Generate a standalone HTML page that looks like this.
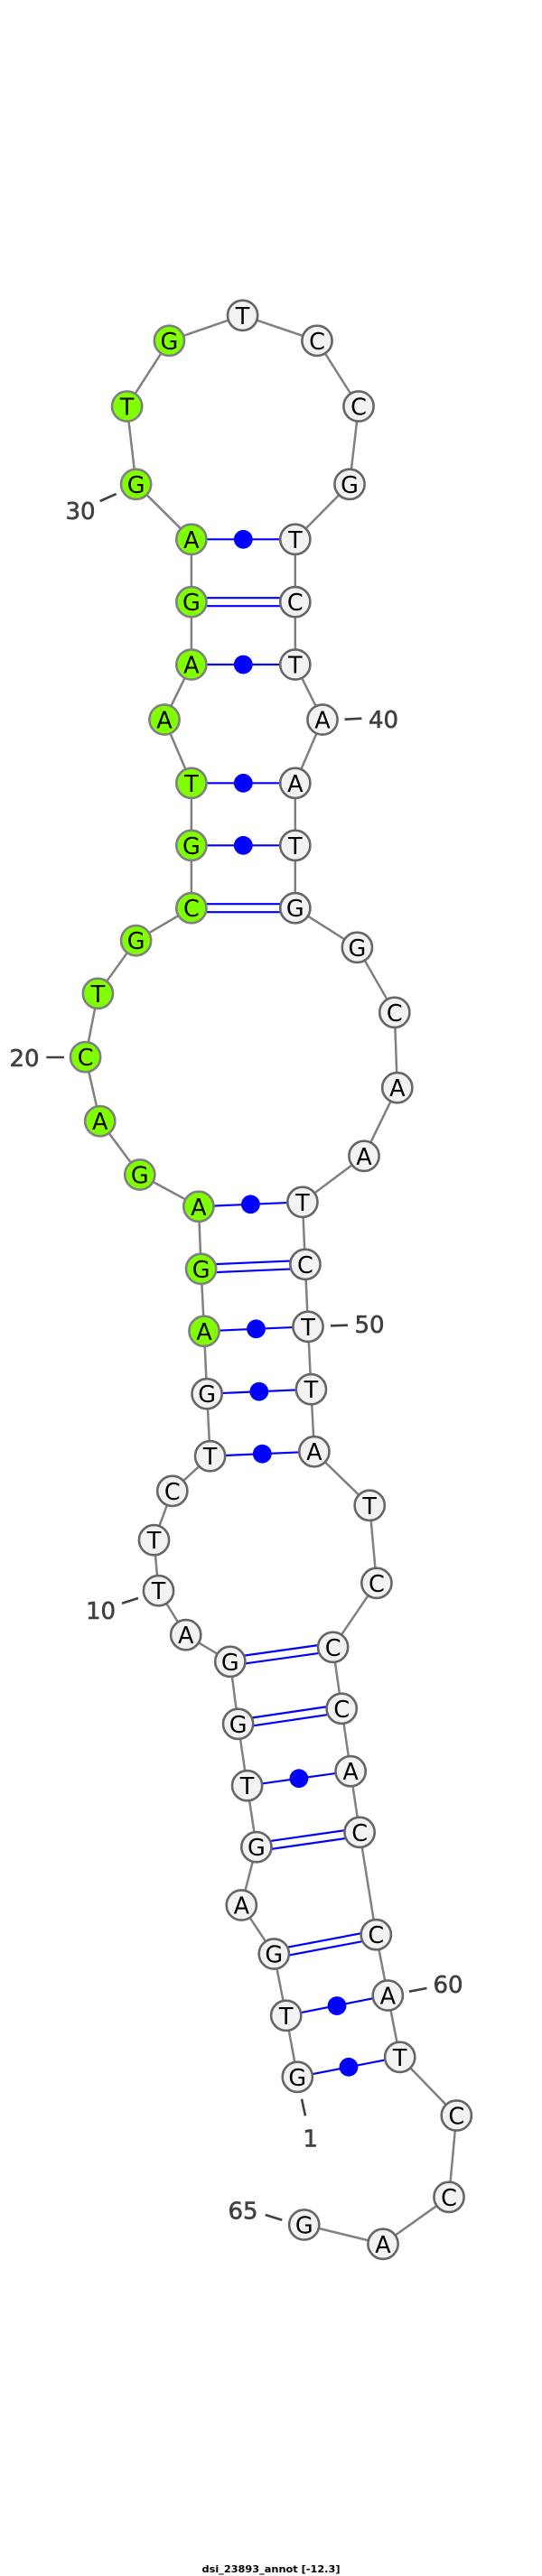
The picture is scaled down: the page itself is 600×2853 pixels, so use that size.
<!DOCTYPE html>
<html>
<head>
<meta charset="utf-8">
<style>
html,body{margin:0;padding:0;background:#fff}
svg{display:block}
.n text{font-family:"DejaVu Sans","Liberation Sans",sans-serif;font-size:25.5px;fill:#000;text-anchor:middle}
text.l{font-family:"DejaVu Sans","Liberation Sans",sans-serif;font-size:26px;fill:#404040;text-anchor:middle;stroke:#404040;stroke-width:.6}
circle.g{fill:#7fff00;stroke:#808080;stroke-width:2.6}
circle.w{fill:#f2f2f2;stroke:#666;stroke-width:2.6}
</style>
</head>
<body>
<svg xmlns="http://www.w3.org/2000/svg" width="600" height="2853" viewBox="0 0 600 2853">
<rect width="600" height="2853" fill="#fff"/>

<polyline fill="none" stroke="#808080" stroke-width="2.5" points="329.3,2300.3 316.7,2232.3 303.3,2164 267.3,2110 283.9,2045.7 273.6,1977.7 263.6,1909.3 254.8,1840.3 205.7,1810.7 175.5,1761.7 170.5,1705.7 190.8,1651.3 232.6,1612.7 229.1,1543.7 226,1474.3 222.6,1405.3 219.9,1336.3 154.8,1301 110.7,1241.7 94.6,1170.7 108.4,1100.3 150.6,1041.7 211.9,1005.7 211.9,936.3 211.9,867.3 182,797 211.9,736 211.9,666.7 211.9,597.3 150.6,536.3 140.6,450 187.4,377.3 268.6,349.3 351,377.3 397,450 387,536.3 326.8,597.3 326.8,666.7 326.8,736 357,797 326.8,867.3 326.8,936.3 326.8,1005.7 395.4,1049.3 436.8,1121.3 439.8,1204.7 403,1280.3 334.9,1331.3 337.9,1400.3 341,1469.3 344.4,1538.7 347.9,1607.7 409.2,1667.3 416.9,1753.3 368.6,1824.3 378.2,1892.3 388.1,1961.7 398.1,2029.3 416.3,2142.7 429.3,2210 442.7,2278.3 505.3,2343 497,2433.3 424,2485.3 336.7,2464"/>

<g stroke="#0000ff" stroke-width="2.2" fill="none">
<line x1="211.9" y1="597.3" x2="326.8" y2="597.3"/>
<line x1="211.9" y1="736" x2="326.8" y2="736"/>
<line x1="211.9" y1="867.3" x2="326.8" y2="867.3"/>
<line x1="211.9" y1="936.3" x2="326.8" y2="936.3"/>
<line x1="219.9" y1="1336.3" x2="334.9" y2="1331.3"/>
<line x1="226" y1="1474.3" x2="341" y2="1469.3"/>
<line x1="229.1" y1="1543.7" x2="344.4" y2="1538.7"/>
<line x1="232.6" y1="1612.7" x2="347.9" y2="1607.7"/>
<line x1="273.6" y1="1977.7" x2="388.1" y2="1961.7"/>
<line x1="316.7" y1="2232.3" x2="429.3" y2="2210"/>
<line x1="329.3" y1="2300.3" x2="442.7" y2="2278.3"/>
<line x1="211.9" y1="662.2" x2="326.8" y2="662.2"/>
<line x1="211.9" y1="671.2" x2="326.8" y2="671.2"/>
<line x1="211.9" y1="1001.2" x2="326.8" y2="1001.2"/>
<line x1="211.9" y1="1010.2" x2="326.8" y2="1010.2"/>
<line x1="222.4" y1="1400.8" x2="337.7" y2="1395.8"/>
<line x1="222.8" y1="1409.8" x2="338.1" y2="1404.8"/>
<line x1="254.2" y1="1835.9" x2="368" y2="1819.9"/>
<line x1="255.4" y1="1844.7" x2="369.2" y2="1828.7"/>
<line x1="263" y1="1904.9" x2="377.6" y2="1887.9"/>
<line x1="264.2" y1="1913.7" x2="378.8" y2="1896.7"/>
<line x1="283.2" y1="2041.3" x2="397.4" y2="2024.9"/>
<line x1="284.6" y1="2050.1" x2="398.8" y2="2033.7"/>
<line x1="302.3" y1="2159.7" x2="415.3" y2="2138.3"/>
<line x1="304.3" y1="2168.4" x2="417.3" y2="2147.1"/>
</g>

<g fill="#0000ff">
<circle cx="269.3" cy="597.3" r="10.4"/>
<circle cx="269.3" cy="736" r="10.4"/>
<circle cx="269.3" cy="867.3" r="10.4"/>
<circle cx="269.3" cy="936.3" r="10.4"/>
<circle cx="277.4" cy="1333.8" r="10.4"/>
<circle cx="283.5" cy="1471.8" r="10.4"/>
<circle cx="286.8" cy="1541.2" r="10.4"/>
<circle cx="290.3" cy="1610.2" r="10.4"/>
<circle cx="330.9" cy="1969.7" r="10.4"/>
<circle cx="373" cy="2221.5" r="10.4"/>
<circle cx="386" cy="2289.3" r="10.4"/>
</g>

<g class="n">
<circle class="w" cx="329.3" cy="2300.3" r="16.6"/><text x="329.3" y="2309.8">G</text>
<circle class="w" cx="316.7" cy="2232.3" r="16.6"/><text x="316.7" y="2241.8">T</text>
<circle class="w" cx="303.3" cy="2164" r="16.6"/><text x="303.3" y="2173.5">G</text>
<circle class="w" cx="267.3" cy="2110" r="16.6"/><text x="267.3" y="2119.5">A</text>
<circle class="w" cx="283.9" cy="2045.7" r="16.6"/><text x="283.9" y="2055.2">G</text>
<circle class="w" cx="273.6" cy="1977.7" r="16.6"/><text x="273.6" y="1987.2">T</text>
<circle class="w" cx="263.6" cy="1909.3" r="16.6"/><text x="263.6" y="1918.8">G</text>
<circle class="w" cx="254.8" cy="1840.3" r="16.6"/><text x="254.8" y="1849.8">G</text>
<circle class="w" cx="205.7" cy="1810.7" r="16.6"/><text x="205.7" y="1820.2">A</text>
<circle class="w" cx="175.5" cy="1761.7" r="16.6"/><text x="175.5" y="1771.2">T</text>
<circle class="w" cx="170.5" cy="1705.7" r="16.6"/><text x="170.5" y="1715.2">T</text>
<circle class="w" cx="190.8" cy="1651.3" r="16.6"/><text x="190.8" y="1660.8">C</text>
<circle class="w" cx="232.6" cy="1612.7" r="16.6"/><text x="232.6" y="1622.2">T</text>
<circle class="w" cx="229.1" cy="1543.7" r="16.6"/><text x="229.1" y="1553.2">G</text>
<circle class="g" cx="226" cy="1474.3" r="16.6"/><text x="226" y="1483.8">A</text>
<circle class="g" cx="222.6" cy="1405.3" r="16.6"/><text x="222.6" y="1414.8">G</text>
<circle class="g" cx="219.9" cy="1336.3" r="16.6"/><text x="219.9" y="1345.8">A</text>
<circle class="g" cx="154.8" cy="1301" r="16.6"/><text x="154.8" y="1310.5">G</text>
<circle class="g" cx="110.7" cy="1241.7" r="16.6"/><text x="110.7" y="1251.2">A</text>
<circle class="g" cx="94.6" cy="1170.7" r="16.6"/><text x="94.6" y="1180.2">C</text>
<circle class="g" cx="108.4" cy="1100.3" r="16.6"/><text x="108.4" y="1109.8">T</text>
<circle class="g" cx="150.6" cy="1041.7" r="16.6"/><text x="150.6" y="1051.2">G</text>
<circle class="g" cx="211.9" cy="1005.7" r="16.6"/><text x="211.9" y="1015.2">C</text>
<circle class="g" cx="211.9" cy="936.3" r="16.6"/><text x="211.9" y="945.8">G</text>
<circle class="g" cx="211.9" cy="867.3" r="16.6"/><text x="211.9" y="876.8">T</text>
<circle class="g" cx="182" cy="797" r="16.6"/><text x="182" y="806.5">A</text>
<circle class="g" cx="211.9" cy="736" r="16.6"/><text x="211.9" y="745.5">A</text>
<circle class="g" cx="211.9" cy="666.7" r="16.6"/><text x="211.9" y="676.2">G</text>
<circle class="g" cx="211.9" cy="597.3" r="16.6"/><text x="211.9" y="606.8">A</text>
<circle class="g" cx="150.6" cy="536.3" r="16.6"/><text x="150.6" y="545.8">G</text>
<circle class="g" cx="140.6" cy="450" r="16.6"/><text x="140.6" y="459.5">T</text>
<circle class="g" cx="187.4" cy="377.3" r="16.6"/><text x="187.4" y="386.8">G</text>
<circle class="w" cx="268.6" cy="349.3" r="16.6"/><text x="268.6" y="358.8">T</text>
<circle class="w" cx="351" cy="377.3" r="16.6"/><text x="351" y="386.8">C</text>
<circle class="w" cx="397" cy="450" r="16.6"/><text x="397" y="459.5">C</text>
<circle class="w" cx="387" cy="536.3" r="16.6"/><text x="387" y="545.8">G</text>
<circle class="w" cx="326.8" cy="597.3" r="16.6"/><text x="326.8" y="606.8">T</text>
<circle class="w" cx="326.8" cy="666.7" r="16.6"/><text x="326.8" y="676.2">C</text>
<circle class="w" cx="326.8" cy="736" r="16.6"/><text x="326.8" y="745.5">T</text>
<circle class="w" cx="357" cy="797" r="16.6"/><text x="357" y="806.5">A</text>
<circle class="w" cx="326.8" cy="867.3" r="16.6"/><text x="326.8" y="876.8">A</text>
<circle class="w" cx="326.8" cy="936.3" r="16.6"/><text x="326.8" y="945.8">T</text>
<circle class="w" cx="326.8" cy="1005.7" r="16.6"/><text x="326.8" y="1015.2">G</text>
<circle class="w" cx="395.4" cy="1049.3" r="16.6"/><text x="395.4" y="1058.8">G</text>
<circle class="w" cx="436.8" cy="1121.3" r="16.6"/><text x="436.8" y="1130.8">C</text>
<circle class="w" cx="439.8" cy="1204.7" r="16.6"/><text x="439.8" y="1214.2">A</text>
<circle class="w" cx="403" cy="1280.3" r="16.6"/><text x="403" y="1289.8">A</text>
<circle class="w" cx="334.9" cy="1331.3" r="16.6"/><text x="334.9" y="1340.8">T</text>
<circle class="w" cx="337.9" cy="1400.3" r="16.6"/><text x="337.9" y="1409.8">C</text>
<circle class="w" cx="341" cy="1469.3" r="16.6"/><text x="341" y="1478.8">T</text>
<circle class="w" cx="344.4" cy="1538.7" r="16.6"/><text x="344.4" y="1548.2">T</text>
<circle class="w" cx="347.9" cy="1607.7" r="16.6"/><text x="347.9" y="1617.2">A</text>
<circle class="w" cx="409.2" cy="1667.3" r="16.6"/><text x="409.2" y="1676.8">T</text>
<circle class="w" cx="416.9" cy="1753.3" r="16.6"/><text x="416.9" y="1762.8">C</text>
<circle class="w" cx="368.6" cy="1824.3" r="16.6"/><text x="368.6" y="1833.8">C</text>
<circle class="w" cx="378.2" cy="1892.3" r="16.6"/><text x="378.2" y="1901.8">C</text>
<circle class="w" cx="388.1" cy="1961.7" r="16.6"/><text x="388.1" y="1971.2">A</text>
<circle class="w" cx="398.1" cy="2029.3" r="16.6"/><text x="398.1" y="2038.8">C</text>
<circle class="w" cx="416.3" cy="2142.7" r="16.6"/><text x="416.3" y="2152.2">C</text>
<circle class="w" cx="429.3" cy="2210" r="16.6"/><text x="429.3" y="2219.5">A</text>
<circle class="w" cx="442.7" cy="2278.3" r="16.6"/><text x="442.7" y="2287.8">T</text>
<circle class="w" cx="505.3" cy="2343" r="16.6"/><text x="505.3" y="2352.5">C</text>
<circle class="w" cx="497" cy="2433.3" r="16.6"/><text x="497" y="2442.8">C</text>
<circle class="w" cx="424" cy="2485.3" r="16.6"/><text x="424" y="2494.8">A</text>
<circle class="w" cx="336.7" cy="2464" r="16.6"/><text x="336.7" y="2473.5">G</text>
</g>

<g stroke="#404040" stroke-width="2.6">
<line x1="110.7" y1="555" x2="128.7" y2="547"/>
<line x1="381.6" y1="796.7" x2="400.4" y2="795.7"/>
<line x1="51.3" y1="1171" x2="70.9" y2="1171"/>
<line x1="366" y1="1468.3" x2="385" y2="1467.7"/>
<line x1="135" y1="1775.7" x2="153" y2="1770"/>
<line x1="453" y1="2205.7" x2="472.5" y2="2202"/>
<line x1="334" y1="2324.7" x2="338" y2="2343.3"/>
<line x1="293.7" y1="2453" x2="312.3" y2="2458.7"/>
</g>

<text class="l" x="89" y="575">30</text>
<text class="l" x="424.5" y="806">40</text>
<text class="l" x="27" y="1181">20</text>
<text class="l" x="409" y="1476">50</text>
<text class="l" x="111.5" y="1793">10</text>
<text class="l" x="496" y="2207">60</text>
<text class="l" x="343.7" y="2377.7">1</text>
<text class="l" x="269" y="2457.3">65</text>

<text x="300" y="2849" text-anchor="middle" font-family="'DejaVu Sans','Liberation Sans',sans-serif" font-size="11" font-weight="bold" fill="#000" textLength="153" lengthAdjust="spacingAndGlyphs">dsi_23893_annot [-12.3]</text>
</svg>
</body>
</html>
